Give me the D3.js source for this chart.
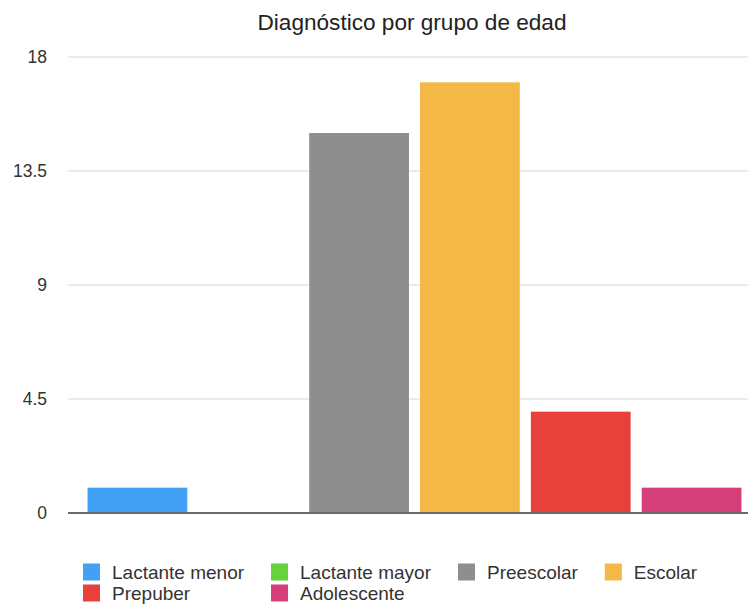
<!DOCTYPE html>
<html>
<head>
<meta charset="utf-8">
<script src="https://cdn.jsdelivr.net/npm/d3@7"></script>
<style>
  html, body { margin: 0; padding: 0; background: #fff; }
  svg { display: block; font-family: "Liberation Sans", Arial, Helvetica, sans-serif; }
</style>
</head>
<body>
<svg id="chart" width="748" height="604"></svg>
<script>
// Chart data
const title = "Diagnóstico por grupo de edad";
const categories = ["Lactante menor", "Lactante mayor", "Preescolar", "Escolar", "Prepuber", "Adolescente"];
const values = [1, 0, 15, 17, 4, 1];
const colors = ["#42a0f5", "#66d23c", "#8e8e8e", "#f4b846", "#e8403a", "#d53f79"];
const yTicks = [0, 4.5, 9, 13.5, 18];
const yTickLabels = ["0", "4.5", "9", "13.5", "18"];

const svg = d3.select("#chart");

const plotLeft = 68, plotRight = 748;
const y = d3.scaleLinear().domain([0, 18]).range([513, 57]);
const x = d3.scaleBand().domain(categories).range([82, 747])
  .paddingInner(0.1).paddingOuter(0.05);

// Title
svg.append("text")
  .attr("x", 412).attr("y", 22)
  .attr("text-anchor", "middle").attr("dominant-baseline", "central")
  .attr("font-size", 22.6).attr("fill", "#222")
  .text(title);

// Gridlines (all but the baseline)
svg.append("g").selectAll("line")
  .data(yTicks.filter(d => d > 0))
  .join("line")
  .attr("x1", plotLeft).attr("x2", plotRight)
  .attr("y1", d => y(d)).attr("y2", d => y(d))
  .attr("stroke", "#e3e3e3").attr("stroke-width", 1.5);

// Y axis labels
const yAxis = d3.axisLeft(y).tickValues(yTicks)
  .tickFormat((d, i) => yTickLabels[i]).tickSize(0).tickPadding(0);
const gy = svg.append("g").attr("transform", "translate(47,0)").call(yAxis);
gy.select(".domain").remove();
gy.selectAll("text")
  .attr("font-size", 17.5).attr("fill", "#333")
  .attr("font-family", "'Liberation Sans', Arial, sans-serif");

// Bars
svg.append("g").selectAll("rect")
  .data(categories)
  .join("rect")
  .attr("x", d => x(d))
  .attr("width", x.bandwidth())
  .attr("y", (d, i) => y(values[i]))
  .attr("height", (d, i) => y(0) - y(values[i]))
  .attr("fill", (d, i) => colors[i]);

// Baseline
svg.append("line")
  .attr("x1", plotLeft).attr("x2", plotRight)
  .attr("y1", y(0)).attr("y2", y(0))
  .attr("stroke", "#6a6a6a").attr("stroke-width", 2);

// Legend: four columns, items wrap to a second row
const legendCols = 4;
const rowY = [572, 593];
const sw = 17, textGap = 12, colGap = 27;
const legend = svg.append("g");
const items = legend.selectAll("g").data(categories).join("g");
items.append("rect")
  .attr("width", sw).attr("height", sw)
  .attr("fill", (d, i) => colors[i]);
items.append("text")
  .attr("x", sw + textGap).attr("y", sw / 2)
  .attr("dominant-baseline", "central")
  .attr("font-size", 19).attr("fill", "#333")
  .text(d => d);

// Column positions from the widths of the first row
const colX = [83];
items.filter((d, i) => i < legendCols).each(function (d, i) {
  if (i < legendCols - 1) {
    const w = d3.select(this).select("text").node().getComputedTextLength();
    colX.push(colX[i] + sw + textGap + w + colGap);
  }
});
items.attr("transform", (d, i) => {
  const c = i % legendCols, r = Math.floor(i / legendCols);
  return `translate(${colX[c]},${rowY[r] - sw / 2})`;
});
</script>
</body>
</html>
